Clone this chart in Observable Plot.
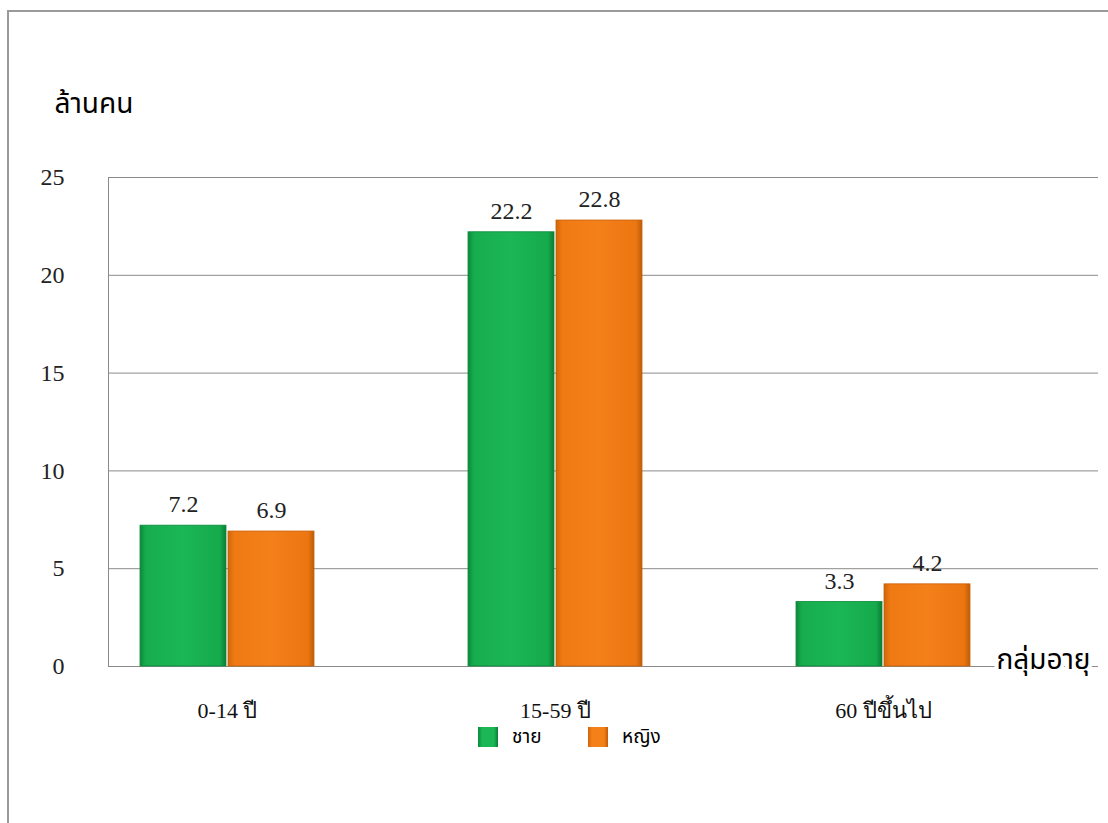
<!DOCTYPE html>
<html>
<head>
<meta charset="utf-8">
<script src="https://cdn.jsdelivr.net/npm/d3@7"></script>
<script src="https://cdn.jsdelivr.net/npm/@observablehq/plot@0.6"></script>
<style>
  html, body { margin: 0; padding: 0; background: #fff; }
  #wrap { position: relative; width: 1108px; height: 823px; overflow: hidden; }
  #border { position: absolute; left: 7px; top: 10px; width: 1200px; height: 900px;
            border-top: 2px solid #9a9a9a; border-left: 2px solid #9a9a9a; }
  #chart { position: absolute; left: 0; top: 0; }
  #legend { position: absolute; left: 0; top: 727px; width: 1108px; height: 20px;
            font-family: "Liberation Serif", "Noto Sans Thai", serif; font-size: 19px; line-height: 20px; color: #000; }
  .item { display: flex; align-items: center; position: absolute; top: 0; height: 20px; }
  .sw { width: 20px; height: 20px; margin-right: 14px; }
</style>
</head>
<body>
<div id="wrap">
  <div id="border"></div>
  <div id="chart"></div>
  <div id="legend"></div>
</div>
<script>
const categories = ["0-14 ปี", "15-59 ปี", "60 ปีขึ้นไป"];
const seriesNames = ["ชาย", "หญิง"];
const male = [7.2, 22.2, 3.3];
const female = [6.9, 22.8, 4.2];
const yTicks = [0, 5, 10, 15, 20, 25];
const yLabel = "ล้านคน";
const xLabel = "กลุ่มอายุ";

const maleData = categories.map((c, i) => ({category: c, sex: seriesNames[0], value: male[i]}));
const femaleData = categories.map((c, i) => ({category: c, sex: seriesNames[1], value: female[i]}));

const serif = "'Liberation Serif', 'Times New Roman', serif";
const sans = "'Noto Sans Thai', 'Noto Sans', sans-serif";

const plot = Plot.plot({
  width: 1108,
  height: 722,
  marginTop: 177,
  marginBottom: 56,
  marginLeft: 108,
  marginRight: 10,
  style: {fontFamily: serif, fontSize: "22px", color: "#000", background: "transparent", overflow: "visible"},
  x: {type: "band", domain: categories, range: [63, 1047], padding: 0, axis: null},
  y: {domain: [0, 25], ticks: yTicks, axis: null},
  marks: [
    Plot.gridY(yTicks.filter(d => d > 0), {stroke: "#8a8a8a", strokeOpacity: 1, strokeWidth: 1}),
    Plot.ruleY([0], {stroke: "#8a8a8a", strokeWidth: 1}),
    Plot.frame({anchor: "left", stroke: "#8a8a8a"}),
    Plot.axisY(yTicks, {tickSize: 0, tickPadding: 44, fontSize: 24, fontFamily: serif, fill: "#222", label: null}),
    Plot.axisX(categories, {tickSize: 0, tickPadding: 36, fontSize: 22, fontFamily: serif, fill: "#111", label: null}),
    Plot.barY(maleData, {x: "category", y: "value", fill: "url(#gGreen)", insetLeft: 77, insetRight: 165, stroke: "#0c8a3a", strokeWidth: 0.8}),
    Plot.barY(femaleData, {x: "category", y: "value", fill: "url(#gOrange)", insetLeft: 165, insetRight: 77, stroke: "#c85f08", strokeWidth: 0.8}),
    Plot.text(maleData, {x: "category", y: "value", text: d => d.value.toFixed(1), dx: -44, dy: -21, fontSize: 24, fontFamily: serif, fill: "#222"}),
    Plot.text(femaleData, {x: "category", y: "value", text: d => d.value.toFixed(1), dx: 44, dy: -21, fontSize: 24, fontFamily: serif, fill: "#222"}),
    Plot.text([yLabel], {frameAnchor: "top-left", dx: -54, dy: -84, textAnchor: "start", fontSize: 28, fontFamily: sans, fill: "#000"}),
    Plot.text([xLabel], {frameAnchor: "bottom-right", dx: -8, dy: 2, textAnchor: "end", fontSize: 28, fontFamily: sans, fill: "#000", stroke: "#fff", strokeWidth: 8})
  ]
});

// gradients for bevelled bars
const ns = "http://www.w3.org/2000/svg";
const defs = document.createElementNS(ns, "defs");
defs.innerHTML = `
  <linearGradient id="gGreen" x1="0" x2="1" y1="0" y2="0">
    <stop offset="0" stop-color="#0b8a3b"/>
    <stop offset="0.07" stop-color="#17ad4e"/>
    <stop offset="0.5" stop-color="#1bb655"/>
    <stop offset="0.93" stop-color="#15aa4c"/>
    <stop offset="1" stop-color="#0a7d35"/>
  </linearGradient>
  <linearGradient id="gOrange" x1="0" x2="1" y1="0" y2="0">
    <stop offset="0" stop-color="#d0650a"/>
    <stop offset="0.07" stop-color="#ef7a14"/>
    <stop offset="0.5" stop-color="#f4801a"/>
    <stop offset="0.93" stop-color="#ec7611"/>
    <stop offset="1" stop-color="#bf5c06"/>
  </linearGradient>`;
plot.insertBefore(defs, plot.firstChild);
document.getElementById("chart").appendChild(plot);

// legend
const legend = document.getElementById("legend");
const legendX = [478, 588];
seriesNames.forEach((name, i) => {
  const item = document.createElement("div");
  item.className = "item";
  item.style.left = legendX[i] + "px";
  const sw = document.createElement("div");
  sw.className = "sw";
  sw.style.background = i === 0
    ? "linear-gradient(90deg,#0b8a3b,#1bb655 20%,#1bb655 80%,#0a7d35)"
    : "linear-gradient(90deg,#d0650a,#f4801a 20%,#f4801a 80%,#bf5c06)";
  const lab = document.createElement("span");
  lab.textContent = name;
  item.appendChild(sw);
  item.appendChild(lab);
  legend.appendChild(item);
});
</script>
</body>
</html>
